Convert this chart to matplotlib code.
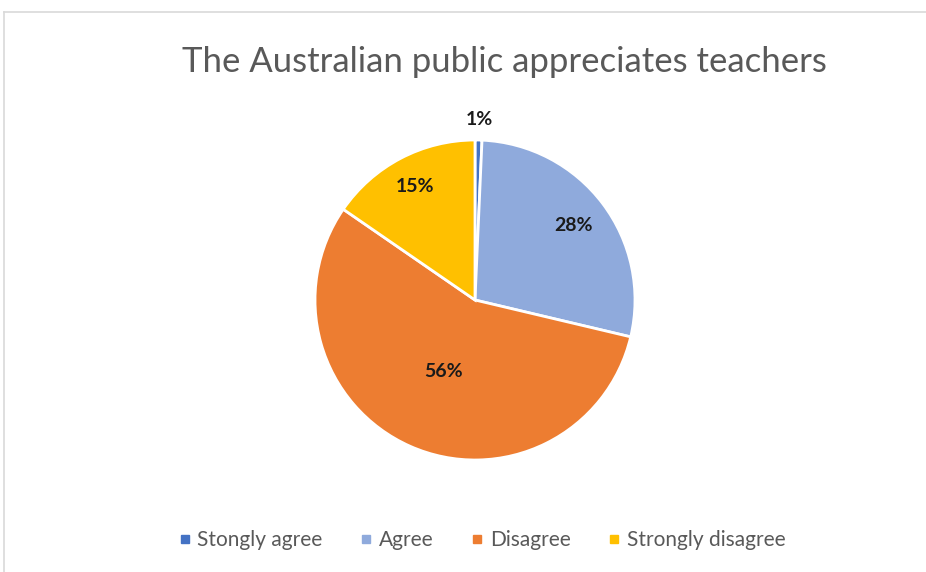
import numpy as np
import matplotlib.pyplot as plt
from matplotlib.lines import Line2D

plt.rcParams['font.family'] = ['Lato', 'DejaVu Sans']

categories = ['Stongly agree', 'Agree', 'Disagree', 'Strongly disagree']
shares = [0.7, 28.0, 55.9, 15.4]
colors = ['#4472C4', '#8FAADC', '#ED7D31', '#FFC000']
label_dist = [1.13, 0.77, 0.49, 0.80]

W, H = 926, 572
fig = plt.figure(figsize=(W / 100, H / 100), dpi=100)

# chart frame (only top and left edges visible)
fig.add_artist(Line2D([4 / W, 1], [1 - 12 / H, 1 - 12 / H], color='#d9d9d9', lw=1.2))
fig.add_artist(Line2D([4 / W, 4 / W], [0, 1 - 12 / H], color='#d9d9d9', lw=1.2))

cx, cy, r = 475, 300, 160
ax = fig.add_axes([(cx - r) / W, (H - cy - r) / H, 2 * r / W, 2 * r / H])
wedges, _ = ax.pie(shares, colors=colors, startangle=90, counterclock=False,
                   wedgeprops=dict(edgecolor='white', linewidth=2))
ax.set_xlim(-1, 1)
ax.set_ylim(-1, 1)

for w, v, d in zip(wedges, shares, label_dist):
    ang = np.deg2rad((w.theta1 + w.theta2) / 2)
    ax.text(d * np.cos(ang), d * np.sin(ang), '%.0f%%' % v, ha='center', va='center',
            fontsize=14, fontweight='bold', color='#1a1a1a')

fig.text(504 / W, 1 - 62 / H, 'The Australian public appreciates teachers',
         ha='center', va='center', fontsize=25, color='#595959')

handles = [Line2D([], [], marker='s', ls='', color=c, markersize=6) for c in colors]
fig.legend(handles, categories, loc='center', bbox_to_anchor=(480 / W, 1 - 540 / H),
           ncol=4, frameon=False, fontsize=15, labelcolor='#595959',
           handletextpad=0.1, columnspacing=1.6, handlelength=1.0)

fig.savefig('out.png', dpi=100)
